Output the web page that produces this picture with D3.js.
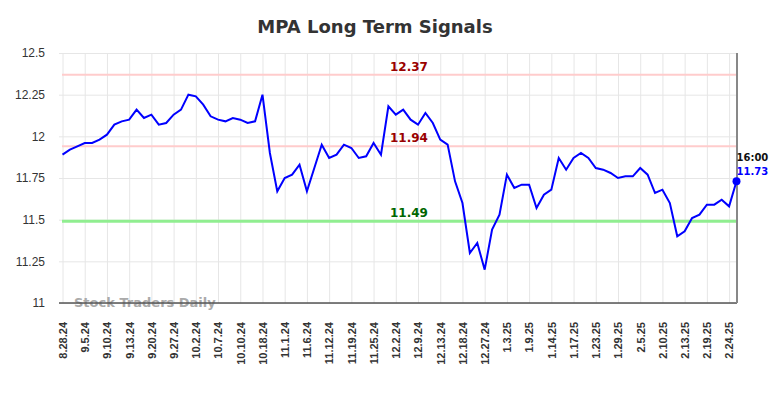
<!DOCTYPE html>
<html>
<head>
<meta charset="utf-8">
<script src="https://cdn.jsdelivr.net/npm/d3@7"></script>
<style>
  body { margin: 0; background: #fff; }
  svg { display: block; font-family: "DejaVu Sans", sans-serif; }
</style>
</head>
<body>
<script>
const width = 784;
const height = 398;
const margin = { top: 53, right: 47, bottom: 95, left: 62 };

const tickLabels = ["8.28.24", "9.5.24", "9.10.24", "9.13.24", "9.20.24", "9.27.24", "10.2.24", "10.7.24",
  "10.10.24", "10.18.24", "11.1.24", "11.6.24", "11.12.24", "11.19.24", "11.25.24", "12.2.24", "12.9.24",
  "12.13.24", "12.18.24", "12.27.24", "1.3.25", "1.9.25", "1.14.25", "1.17.25", "1.23.25", "1.29.25",
  "2.5.25", "2.10.25", "2.13.25", "2.19.25", "2.24.25"];

const prices = [11.89, 11.92, 11.94, 11.96, 11.96, 11.98, 12.01, 12.07, 12.09, 12.10,
  12.16, 12.11, 12.13, 12.07, 12.08, 12.13, 12.16, 12.25, 12.24, 12.19,
  12.12, 12.10, 12.09, 12.11, 12.10, 12.08, 12.09, 12.25, 11.90, 11.67,
  11.75, 11.77, 11.83, 11.67, 11.81, 11.95, 11.87, 11.89, 11.95, 11.93,
  11.87, 11.88, 11.96, 11.89, 12.18, 12.13, 12.16, 12.10, 12.07, 12.14,
  12.08, 11.98, 11.95, 11.73, 11.60, 11.30, 11.36, 11.20, 11.44, 11.53,
  11.77, 11.69, 11.71, 11.71, 11.57, 11.65, 11.68, 11.87, 11.80, 11.87,
  11.90, 11.87, 11.81, 11.80, 11.78, 11.75, 11.76, 11.76, 11.81, 11.77,
  11.66, 11.68, 11.60, 11.40, 11.43, 11.51, 11.53, 11.59, 11.59, 11.62,
  11.58, 11.73];

const yTicks = [11, 11.25, 11.5, 11.75, 12, 12.25, 12.5];
const resistance = [12.37, 11.94];
const support = [11.49];
const lastTime = "16:00";

const svg = d3.select("body")
  .append("svg")
  .attr("width", width)
  .attr("height", height);

const x = d3.scaleLinear().domain([0, prices.length - 1]).range([margin.left + 0.5, width - margin.right - 0.5]);
const y = d3.scaleLinear().domain([11, 12.5]).range([height - margin.bottom, margin.top]);

const plotRight = width - margin.right;
const plotBottom = height - margin.bottom;

svg.append("text")
  .attr("x", 375)
  .attr("y", 33)
  .attr("text-anchor", "middle")
  .attr("font-size", "18px")
  .attr("font-weight", "bold")
  .attr("fill", "#333")
  .text("MPA Long Term Signals");

// grid
const xTickVals = d3.range(0, prices.length - 1, 3);

svg.append("g")
  .attr("transform", `translate(0, ${margin.top})`)
  .call(d3.axisBottom(x).tickValues(xTickVals).tickSize(plotBottom - margin.top).tickFormat(""))
  .call(g => g.select(".domain").remove())
  .call(g => g.selectAll("line").attr("stroke", "#e6e6e6"));

svg.append("g")
  .attr("transform", `translate(${plotRight}, 0)`)
  .call(d3.axisLeft(y).tickValues(yTicks).tickSize(plotRight - margin.left + 3).tickFormat(d3.format("")))
  .call(g => g.select(".domain").remove())
  .call(g => g.selectAll("line").attr("stroke", "#e6e6e6"))
  .call(g => g.selectAll("text")
    .attr("x", -(plotRight - 45))
    .attr("font-size", "12px")
    .attr("fill", "#333"));

// level lines
svg.selectAll(".res")
  .data(resistance)
  .join("line")
  .attr("x1", margin.left).attr("x2", plotRight)
  .attr("y1", d => y(d)).attr("y2", d => y(d))
  .attr("stroke", "#ffcccc")
  .attr("stroke-width", 2);

svg.selectAll(".sup")
  .data(support)
  .join("line")
  .attr("x1", margin.left).attr("x2", plotRight)
  .attr("y1", d => y(d)).attr("y2", d => y(d))
  .attr("stroke", "#90ee90")
  .attr("stroke-width", 3);

svg.selectAll(".lvl")
  .data(resistance.map(v => ({ v, c: "#990000" })).concat(support.map(v => ({ v, c: "#006600" }))))
  .join("text")
  .attr("x", 409)
  .attr("y", d => y(d.v) - 4)
  .attr("text-anchor", "middle")
  .attr("font-size", "12px")
  .attr("font-weight", "bold")
  .attr("fill", d => d.c)
  .text(d => d.v.toFixed(2));

// watermark
svg.append("text")
  .attr("x", 74)
  .attr("y", 307)
  .attr("font-size", "13px")
  .attr("font-weight", "bold")
  .attr("fill", "#aaa")
  .text("Stock Traders Daily");

// x axis
svg.append("g")
  .attr("transform", `translate(0, ${plotBottom})`)
  .call(d3.axisBottom(x).tickValues(xTickVals).tickSize(0).tickFormat(i => tickLabels[i / 3]))
  .call(g => g.select(".domain").attr("d", `M${margin.left - 3},0H${plotRight}`).attr("stroke", "#555").attr("stroke-width", 1.5))
  .call(g => g.selectAll("text")
    .attr("transform", "rotate(-90)")
    .attr("text-anchor", "end")
    .attr("x", -19)
    .attr("y", 0)
    .attr("dy", "0.35em")
    .attr("font-size", "11px")
    .attr("font-weight", "bold")
    .attr("fill", "#333"));

svg.append("line")
  .attr("x1", plotRight).attr("x2", plotRight)
  .attr("y1", margin.top).attr("y2", plotBottom)
  .attr("stroke", "#888")
  .attr("stroke-width", 2);

// price line
const line = d3.line()
  .x((d, i) => x(i))
  .y(d => y(d));

svg.append("path")
  .datum(prices)
  .attr("d", line)
  .attr("fill", "none")
  .attr("stroke", "#0000ff")
  .attr("stroke-width", 2);

const last = prices.length - 1;

svg.append("circle")
  .attr("cx", x(last))
  .attr("cy", y(prices[last]))
  .attr("r", 4)
  .attr("fill", "#0000ff");

svg.append("text")
  .attr("x", x(last))
  .attr("y", y(prices[last]) - 20)
  .attr("font-size", "10px")
  .attr("font-weight", "bold")
  .attr("fill", "#111")
  .text(lastTime);

svg.append("text")
  .attr("x", x(last))
  .attr("y", y(prices[last]) - 6)
  .attr("font-size", "10px")
  .attr("font-weight", "bold")
  .attr("fill", "#0000ff")
  .text(prices[last].toFixed(2));
</script>
</body>
</html>
